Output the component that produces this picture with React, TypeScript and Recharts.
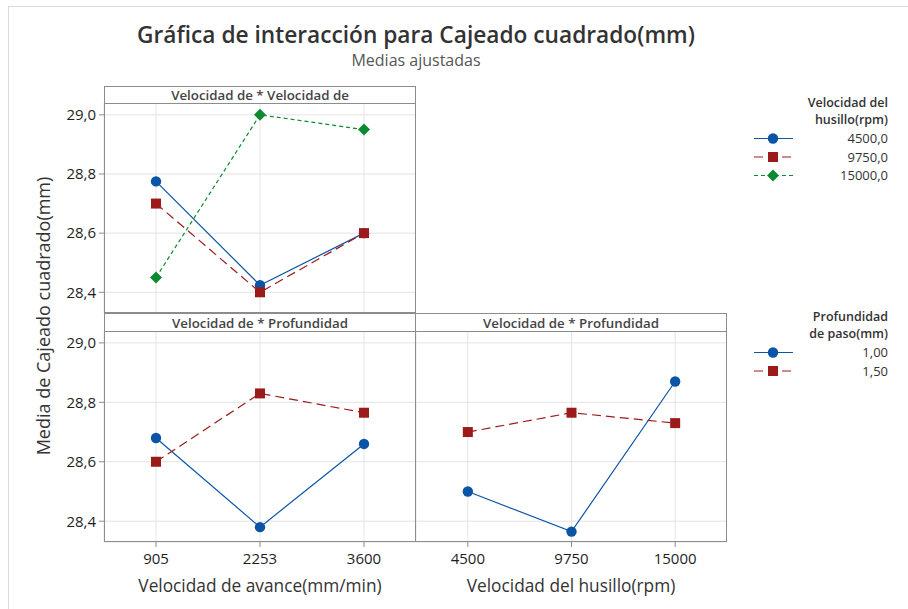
import React from "react";
import { LineChart, Line, XAxis, YAxis, CartesianGrid } from "recharts";

const avanceLabels = ["905", "2253", "3600"];
const husilloLabels = ["4500", "9750", "15000"];
const yTicks = [28.4, 28.6, 28.8, 29.0];

// avance x husillo
const husillo4500 = [28.775, 28.424, 28.6];
const husillo9750 = [28.7, 28.4, 28.6];
const husillo15000 = [28.45, 29.0, 28.95];

// avance x profundidad
const avanceProf100 = [28.68, 28.38, 28.66];
const avanceProf150 = [28.6, 28.83, 28.765];

// husillo x profundidad
const husilloProf100 = [28.5, 28.365, 28.87];
const husilloProf150 = [28.7, 28.765, 28.73];

const husilloLegend = ["4500,0", "9750,0", "15000,0"];
const profLegend = ["1,00", "1,50"];

const BLUE = "#0b54a6";
const RED = "#9b1b1b";
const GREEN = "#0c8a2f";
const FONT = "'Open Sans', 'Noto Sans', sans-serif";
const FRAME = "#8c8c8c";

const styles = [
  { color: BLUE, dash: undefined as string | undefined, shape: "circle" },
  { color: RED, dash: "9 5", shape: "square" },
  { color: GREEN, dash: "4 3", shape: "diamond" },
];

function Marker({ shape, cx, cy, color }: any) {
  if (cx == null || cy == null) return null;
  if (shape === "square")
    return <rect x={cx - 5} y={cy - 5} width={10} height={10} fill={color} />;
  if (shape === "diamond")
    return (
      <polygon
        points={`${cx},${cy - 6} ${cx + 6},${cy} ${cx},${cy + 6} ${cx - 6},${cy}`}
        fill={color}
      />
    );
  return <circle cx={cx} cy={cy} r={5.2} fill={color} />;
}

const fmtY = (v: number) => v.toFixed(1).replace(".", ",");

function Panel({ x, y, w, h, labels, series, showY, showX }: any) {
  const rows = labels.map((label: string, i: number) => {
    const r: any = { i, label };
    series.forEach((s: number[], k: number) => (r["s" + k] = s[i]));
    return r;
  });
  const yw = showY ? 50 : 0;
  const xh = showX ? 34 : 0;
  return (
    <div style={{ position: "absolute", left: x - yw, top: y }}>
      <LineChart
        width={w + yw}
        height={h + xh}
        data={rows}
        margin={{ top: 0, right: 0, bottom: 0, left: 0 }}
      >
        <CartesianGrid stroke="#e4e4e4" />
        <XAxis
          type="number"
          dataKey="i"
          domain={[-0.5, 2.5]}
          ticks={[0, 1, 2]}
          tickFormatter={(v: number) => labels[v]}
          hide={!showX}
          height={xh}
          axisLine={false}
          tickLine={{ stroke: FRAME }}
          tickSize={5}
          tickMargin={6}
          tick={{ fontSize: 15, fill: "#1e1e1e", fontFamily: FONT }}
        />
        <YAxis
          type="number"
          domain={[28.33, 29.04]}
          allowDataOverflow
          ticks={yTicks}
          tickFormatter={fmtY}
          hide={!showY}
          width={yw}
          axisLine={false}
          tickLine={{ stroke: FRAME }}
          tickSize={5}
          tickMargin={3}
          tick={{ fontSize: 15, fill: "#1e1e1e", fontFamily: FONT }}
        />
        {series.map((_: number[], k: number) => (
          <Line
            key={k}
            type="linear"
            dataKey={"s" + k}
            stroke={styles[k].color}
            strokeWidth={1.2}
            strokeDasharray={styles[k].dash}
            dot={(p: any) => (
              <Marker key={p.index} shape={styles[k].shape} cx={p.cx} cy={p.cy} color={styles[k].color} />
            )}
            activeDot={false}
            isAnimationActive={false}
          />
        ))}
      </LineChart>
    </div>
  );
}

function LegendBlock({ title, items, top }: any) {
  const rowY = top + 39.5;
  return (
    <g>
      <text x={888} y={top + 8} textAnchor="end" fontSize={12.5} fontWeight={600} fill="#333">
        {title[0]}
      </text>
      <text x={888} y={top + 25} textAnchor="end" fontSize={12.5} fontWeight={600} fill="#333">
        {title[1]}
      </text>
      {items.map((label: string, k: number) => {
        const cy = rowY + k * 18.5;
        return (
          <g key={label}>
            <line x1={754} x2={793} y1={cy} y2={cy} stroke={styles[k].color} strokeWidth={1.2} strokeDasharray={styles[k].dash} />
            <Marker shape={styles[k].shape} cx={773} cy={cy} color={styles[k].color} />
            <text x={888} y={cy + 4.5} textAnchor="end" fontSize={13} fill="#333">
              {label}
            </text>
          </g>
        );
      })}
    </g>
  );
}

export default function App() {
  return (
    <div
      style={{
        position: "absolute",
        left: 0,
        top: 0,
        width: 908,
        height: 609,
        background: "#fff",
        overflow: "hidden",
        fontFamily: FONT,
      }}
    >
      <Panel x={104} y={103} w={312} h={210} labels={avanceLabels}
        series={[husillo4500, husillo9750, husillo15000]} showY showX={false} />
      <Panel x={104} y={331} w={312} h={211} labels={avanceLabels}
        series={[avanceProf100, avanceProf150]} showY showX />
      <Panel x={416} y={331} w={311} h={211} labels={husilloLabels}
        series={[husilloProf100, husilloProf150]} showY={false} showX />

      <svg
        width={908}
        height={609}
        style={{ position: "absolute", left: 0, top: 0, pointerEvents: "none" }}
        fontFamily={FONT}
      >
        <rect x={8.5} y={6.5} width={1000} height={1000} fill="none" stroke="#dadada" />
        <text x={416} y={43} textAnchor="middle" fontSize={22.7} fontWeight={600} fill="#333">
          Gráfica de interacción para Cajeado cuadrado(mm)
        </text>
        <text x={416} y={66} textAnchor="middle" fontSize={16} fill="#555">
          Medias ajustadas
        </text>

        <rect x={104.5} y={86.5} width={311} height={226} fill="none" stroke={FRAME} />
        <line x1={104} x2={416} y1={103.5} y2={103.5} stroke={FRAME} />
        <text x={260} y={100} textAnchor="middle" fontSize={13.3} fontWeight={600} fill="#444">
          Velocidad de * Velocidad de
        </text>

        <rect x={104.5} y={313.5} width={311} height={228} fill="none" stroke={FRAME} />
        <line x1={104} x2={416} y1={331.5} y2={331.5} stroke={FRAME} />
        <text x={260} y={328} textAnchor="middle" fontSize={13.3} fontWeight={600} fill="#444">
          Velocidad de * Profundidad
        </text>

        <rect x={415.5} y={313.5} width={311} height={228} fill="none" stroke={FRAME} />
        <line x1={416} x2={727} y1={331.5} y2={331.5} stroke={FRAME} />
        <text x={571} y={328} textAnchor="middle" fontSize={13.3} fontWeight={600} fill="#444">
          Velocidad de * Profundidad
        </text>

        <text x={0} y={0} transform="translate(50 316) rotate(-90)" textAnchor="middle" fontSize={18} fill="#333">
          Media de Cajeado cuadrado(mm)
        </text>
        <text x={260} y={592} textAnchor="middle" fontSize={17.3} fill="#333">
          Velocidad de avance(mm/min)
        </text>
        <text x={571} y={592} textAnchor="middle" fontSize={17.3} fill="#333">
          Velocidad del husillo(rpm)
        </text>

        <LegendBlock title={["Velocidad del", "husillo(rpm)"]} items={husilloLegend} top={99} />
        <LegendBlock title={["Profundidad", "de paso(mm)"]} items={profLegend} top={313} />
      </svg>
    </div>
  );
}
